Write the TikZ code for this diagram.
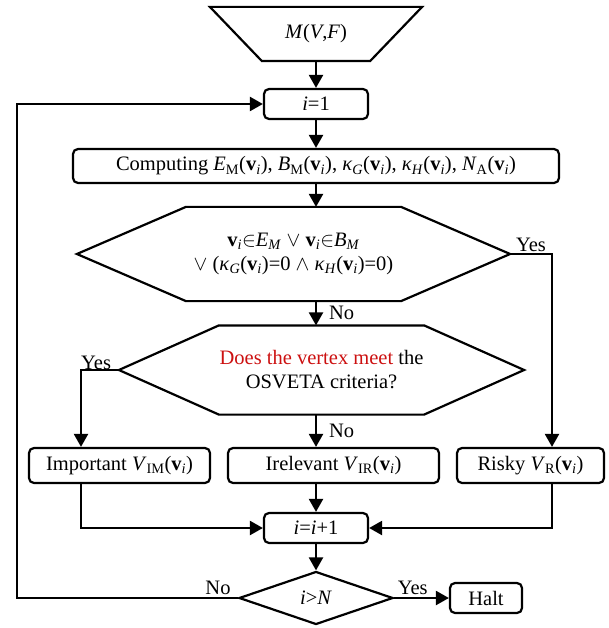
\documentclass[tikz,border=0pt]{standalone}
\usepackage{fontspec}
\setmainfont{Liberation Serif}
\usepackage{tikz}
\usetikzlibrary{arrows.meta, shapes.geometric, calc}
\definecolor{crimson}{RGB}{204, 16, 16}
\newcommand{\vi}{\textbf{v}\textsubscript{\textit{i}}}
\newcommand{\lo}[1]{\textsubscript{#1}}

\begin{document}
\begin{tikzpicture}[x=1pt, y=-1pt, line width=2.2pt,
  every node/.style={font=\fontsize{20.5}{24}\selectfont},
  proc/.style={draw, rounded corners=5pt, inner sep=0pt, minimum height=30pt},
  blank/.style={inner sep=0pt, align=center},
  arr/.style={-{Triangle[length=13pt, width=14pt]}},
  lbl/.style={inner sep=0pt}]
  \useasboundingbox (0, 0) rectangle (608, 628);

  % mesh input
  \node[blank, minimum width=210pt, minimum height=52pt] (mesh) at (316, 34) {\textit{M}(\textit{V},\textit{F})};
  \draw (mesh.north west) -- (mesh.north east) -- ([xshift=-52pt]mesh.south east) -- ([xshift=52pt]mesh.south west) -- cycle;

  \node[proc, minimum width=104pt] (init) at (316, 104) {\textit{i}=1};
  \node[proc, minimum width=486pt, minimum height=34pt] (comp) at (316, 166) {Computing \textit{E}\lo{M}(\vi), \textit{B}\lo{M}(\vi), \textit{κ}\lo{\textit{G}}(\vi), \textit{κ}\lo{\textit{H}}(\vi), \textit{N}\lo{A}(\vi)};

  % first test
  \node[blank, minimum width=431pt, minimum height=92pt] (cond) at (293.5, 254) {\vi$\in$\textit{E}\lo{\textit{M}} $\vee$ \vi$\in$\textit{B}\lo{\textit{M}}\\ $\vee$ (\textit{κ}\lo{\textit{G}}(\vi)=0 $\wedge$ \textit{κ}\lo{\textit{H}}(\vi)=0)};
  \draw (cond.west) -- ([xshift=109pt]cond.north west) -- ([xshift=-109pt]cond.north east) -- (cond.east) -- ([xshift=-109pt]cond.south east) -- ([xshift=109pt]cond.south west) -- cycle;

  % second test
  \node[blank, minimum width=403pt, minimum height=87pt] (crit) at (321.5, 370) {\textcolor{crimson}{Does the vertex meet} the\\ OSVETA criteria?};
  \draw (crit.west) -- ([xshift=100pt]crit.north west) -- ([xshift=-100pt]crit.north east) -- (crit.east) -- ([xshift=-100pt]crit.south east) -- ([xshift=100pt]crit.south west) -- cycle;

  \node[proc, minimum width=181pt, minimum height=35pt] (imp) at (119.5, 465.5) {Important \textit{V}\lo{IM}(\vi)};
  \node[proc, minimum width=211pt, minimum height=35pt] (irr) at (333.5, 465.5) {Irelevant \textit{V}\lo{IR}(\vi)};
  \node[proc, minimum width=147pt, minimum height=35pt] (risk) at (530.5, 465.5) {Risky \textit{V}\lo{R}(\vi)};
  \node[proc, minimum width=104pt] (incr) at (316, 528) {\textit{i}=\textit{i}+1};
  \node[draw, diamond, inner sep=0pt, minimum width=154pt, minimum height=53pt, aspect=2.9] (test) at (316, 598) {\textit{i}>\textit{N}};
  \node[proc, minimum width=72pt] (halt) at (486, 598) {Halt};

  \coordinate (loop) at (17, 598);
  \coordinate (yesR) at (552, 254);
  \coordinate (yesL) at (81, 370);

  \draw[arr] (mesh.south) -- (init.north);
  \draw[arr] (init.south) -- (comp.north);
  \draw[arr] (comp.south) -- (comp.south |- cond.north);
  \draw[arr] (comp.south |- cond.south) -- (comp.south |- crit.north) node[lbl, midway, right=12pt] {No};
  \draw[arr] (comp.south |- crit.south) -- (comp.south |- irr.north) node[lbl, midway, right=12pt] {No};
  \draw[arr] (cond.east) -- (yesR) node[lbl, midway, above=1pt] {Yes} -- (yesR |- risk.north);
  \draw[arr] (crit.west) -- (yesL) node[lbl, pos=0.6, above=-1pt] {Yes} -- (yesL |- imp.north);
  \draw[arr] (incr.north |- irr.south) -- (incr.north);
  \draw[arr] (imp.south -| yesL) -- (yesL |- incr.west) -- (incr.west);
  \draw[arr] (risk.south -| yesR) -- (yesR |- incr.east) -- (incr.east);
  \draw[arr] (incr.south) -- (test.north);
  \draw[arr] (test.east) -- (halt.west) node[lbl, pos=0.34, above=2pt] {Yes};
  \draw[arr] (test.west) -- (loop) node[lbl, pos=0.09, above=2pt] {No} -- (loop |- init.west) -- (init.west);
\end{tikzpicture}
\end{document}
